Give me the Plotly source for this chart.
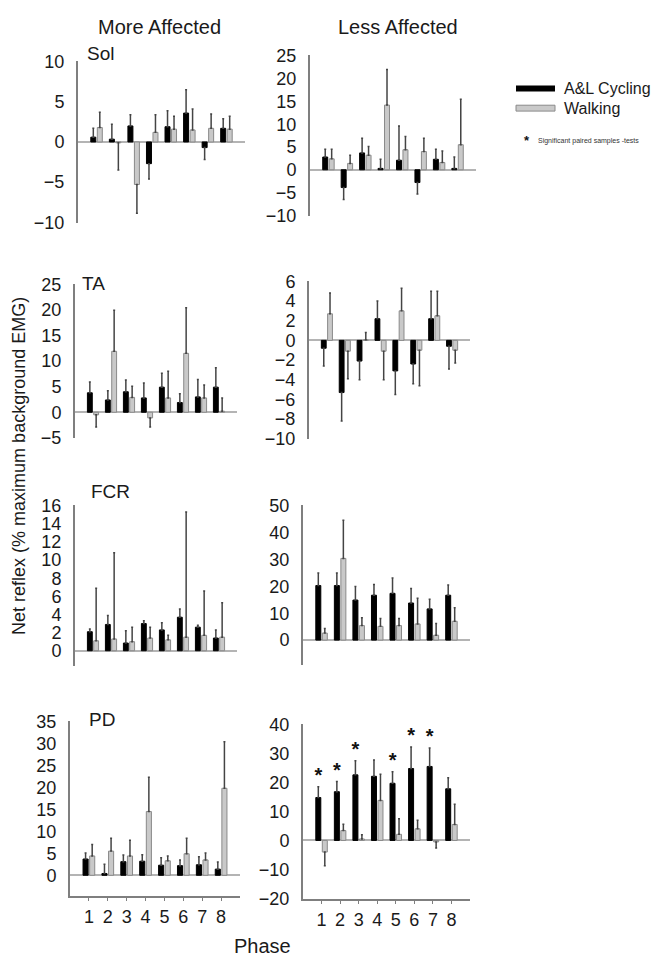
import plotly.graph_objects as go

# the page body adds an 8px margin, so the figure is drawn 16px smaller
# and every position below is given in page pixels
PAGE_W, PAGE_H = 661, 974
PAD = 8
W, H = PAGE_W - 2 * PAD, PAGE_H - 2 * PAD
FONT = "Liberation Sans, Arial, sans-serif"

PHASES = [1, 2, 3, 4, 5, 6, 7, 8]

# Sol
sol_more_cyc = [0.6, 0.35, 2.0, -2.7, 1.9, 3.6, -0.7, 1.7]
sol_more_cyc_err = [1.1, 1.85, 1.4, 1.9, 2.0, 2.9, 1.5, 1.2]
sol_more_walk = [1.8, -0.1, -5.3, 1.2, 1.6, 1.5, 1.7, 1.6]
sol_more_walk_err = [1.9, 3.4, 3.6, 2.2, 1.6, 2.6, 1.8, 1.6]
sol_less_cyc = [2.8, -3.9, 3.7, 0.3, 2.1, -2.8, 2.3, 0.3]
sol_less_cyc_err = [1.7, 2.6, 3.2, 2.0, 7.5, 2.5, 2.2, 2.5]
sol_less_walk = [2.4, 1.4, 3.2, 14.2, 4.4, 4.0, 1.6, 5.5]
sol_less_walk_err = [2.1, 1.8, 1.9, 7.8, 2.9, 2.9, 2.5, 10.0]

# TA
ta_more_cyc = [3.8, 2.4, 4.0, 2.8, 4.9, 1.9, 3.0, 4.9]
ta_more_cyc_err = [2.1, 1.8, 2.3, 2.9, 2.7, 1.7, 3.4, 3.8]
ta_more_walk = [-0.5, 11.9, 2.9, -1.1, 2.8, 11.5, 2.8, 0.2]
ta_more_walk_err = [2.4, 8.0, 2.2, 1.8, 5.2, 8.9, 2.5, 2.6]
ta_less_cyc = [-0.8, -5.3, -2.1, 2.2, -3.1, -2.4, 2.2, -0.6]
ta_less_cyc_err = [1.8, 2.9, 1.9, 1.8, 2.4, 2.0, 2.8, 2.3]
ta_less_walk = [2.7, -1.1, 0.05, -1.1, 3.0, -1.0, 2.5, -1.0]
ta_less_walk_err = [2.1, 2.8, 0.75, 2.9, 2.3, 3.6, 2.5, 1.3]

# FCR
fcr_more_cyc = [2.1, 2.9, 0.85, 3.0, 2.3, 3.7, 2.6, 1.4]
fcr_more_cyc_err = [0.3, 1.0, 1.35, 0.3, 0.8, 0.9, 0.2, 0.9]
fcr_more_walk = [1.1, 1.3, 1.0, 1.4, 1.2, 1.5, 1.7, 1.5]
fcr_more_walk_err = [5.8, 9.5, 1.6, 1.2, 0.5, 13.8, 4.9, 3.8]
fcr_less_cyc = [20.3, 20.3, 14.9, 16.7, 17.4, 13.8, 11.6, 16.7]
fcr_less_cyc_err = [4.7, 4.7, 5.0, 4.0, 5.7, 5.4, 3.6, 3.8]
fcr_less_walk = [2.6, 30.4, 5.4, 5.1, 5.4, 6.0, 1.8, 7.0]
fcr_less_walk_err = [1.7, 14.2, 2.9, 2.9, 2.6, 9.6, 4.4, 5.0]

# PD
pd_more_cyc = [3.7, 0.4, 3.1, 3.2, 2.3, 2.2, 2.4, 1.4]
pd_more_cyc_err = [1.4, 2.1, 1.5, 1.5, 1.7, 1.3, 1.8, 1.6]
pd_more_walk = [4.4, 5.5, 4.4, 14.5, 3.3, 4.9, 3.5, 19.8]
pd_more_walk_err = [2.6, 2.9, 3.6, 7.8, 1.1, 3.5, 1.6, 10.6]
pd_less_cyc = [14.8, 16.8, 22.6, 22.1, 19.7, 24.8, 25.5, 17.8]
pd_less_cyc_err = [3.7, 3.5, 4.9, 5.6, 4.0, 7.4, 6.4, 3.8]
pd_less_walk = [-4.0, 3.4, 0.5, 13.8, 2.1, 4.0, -0.5, 5.5]
pd_less_walk_err = [4.7, 2.2, 1.5, 9.0, 5.4, 3.0, 2.1, 7.0]
pd_less_significant = [1, 2, 3, 5, 6, 7]

BARGAP = 0.3
BARGROUPGAP = 0.23

# panel: (label, cyc, cyc_err, walk, walk_err, px box l r t b, y range, dtick)
PANELS = [
    ("Sol", sol_more_cyc, sol_more_cyc_err, sol_more_walk, sol_more_walk_err,
     (78, 245, 53, 218), (-10, 10), 5),
    (None, sol_less_cyc, sol_less_cyc_err, sol_less_walk, sol_less_walk_err,
     (310, 476, 47, 211), (-10, 25), 5),
    ("TA", ta_more_cyc, ta_more_cyc_err, ta_more_walk, ta_more_walk_err,
     (75, 237, 280, 438), (-5, 25), 5),
    (None, ta_less_cyc, ta_less_cyc_err, ta_less_walk, ta_less_walk_err,
     (309, 470, 277, 439), (-10, 6), 2),
    ("FCR", fcr_more_cyc, fcr_more_cyc_err, fcr_more_walk, fcr_more_walk_err,
     (75, 237, 506, 670), (-1.6, 16), 2),
    (None, fcr_less_cyc, fcr_less_cyc_err, fcr_less_walk, fcr_less_walk_err,
     (303, 470, 506, 669), (-9, 50), 10),
    ("PD", pd_more_cyc, pd_more_cyc_err, pd_more_walk, pd_more_walk_err,
     (70, 240, 726, 905), (-4.6, 35), 5),
    (None, pd_less_cyc, pd_less_cyc_err, pd_less_walk, pd_less_walk_err,
     (303, 470, 729, 908), (-20, 40), 10),
]
LABEL_POS = {"Sol": (85, 45), "TA": (80, 280), "FCR": (89, 492), "PD": (87, 725)}


def fx(px):
    return (px - PAD) / W


def fy(py):
    return 1 - (py - PAD) / H


def one_sided(vals, errs):
    """Excel-style error bars: drawn away from zero only."""
    plus = [e if v >= 0 else 0 for v, e in zip(vals, errs)]
    minus = [e if v < 0 else 0 for v, e in zip(vals, errs)]
    return plus, minus


fig = go.Figure()
layout = {}
annotations = []

for i, (label, cyc, cyc_err, walk, walk_err, box, yr, dtick) in enumerate(PANELS, start=1):
    xa, ya = f"x{i}", f"y{i}"
    l, r, t, b = box
    for vals, errs, fill, edge in [
        (cyc, cyc_err, "#000000", "#000000"),
        (walk, walk_err, "#c9c9c9", "#8a8a8a"),
    ]:
        plus, minus = one_sided(vals, errs)
        fig.add_trace(go.Bar(
            x=PHASES, y=vals, xaxis=xa, yaxis=ya, showlegend=False,
            marker=dict(color=fill, line=dict(color=edge, width=1)),
            error_y=dict(type="data", symmetric=False, array=plus, arrayminus=minus,
                         color="#444444", thickness=1.5, width=1),
        ))
    bottom_row = i >= 7
    span = yr[1] - yr[0]
    key = "" if i == 1 else str(i)
    layout[f"xaxis{key}"] = dict(
        domain=[fx(l), fx(r)], anchor=ya, range=[0, 9],
        showgrid=False, zeroline=False,
        showline=bottom_row, linecolor="#7f7f7f", linewidth=2,
        ticks="outside" if bottom_row else "", ticklen=3, tickcolor="#7f7f7f",
        tickvals=PHASES if bottom_row else [], showticklabels=bottom_row,
        tickfont=dict(family=FONT, size=18, color="#1a1a1a"),
    )
    layout[f"yaxis{key}"] = dict(
        domain=[fy(b), fy(t)], anchor=xa,
        range=[yr[0] - 0.004 * span, yr[1] + 0.004 * span],
        dtick=dtick, tick0=0, showgrid=False,
        zeroline=True, zerolinecolor="#b4b4b4", zerolinewidth=1.5,
        showline=True, linecolor="#7f7f7f", linewidth=2, ticks="",
        ticklabelstandoff=8,
        tickfont=dict(family=FONT, size=18, color="#1a1a1a"),
    )
    if label:
        lx, ly = LABEL_POS[label]
        annotations.append(dict(x=fx(lx), y=fy(ly), xref="paper", yref="paper",
                                text=label, showarrow=False, xanchor="left",
                                yanchor="middle",
                                font=dict(family=FONT, size=19, color="#1a1a1a")))

# significance stars above the cycling bars in PD, less affected
star_x = [p - (1 - BARGAP) / 4 for p in pd_less_significant]
star_y = [pd_less_cyc[p - 1] + pd_less_cyc_err[p - 1] for p in pd_less_significant]
fig.add_trace(go.Scatter(
    x=star_x, y=star_y, xaxis="x8", yaxis="y8", mode="text",
    text=["<b>*</b>"] * len(star_x), textposition="top center",
    textfont=dict(family=FONT, size=20, color="#111111"),
    showlegend=False, hoverinfo="skip",
))

# text labels
for txt, x, y, size, anchor in [
    ("More Affected", 159, 18, 20, "center"),
    ("Less Affected", 398, 18, 20, "center"),
    ("Phase", 262, 956, 20, "center"),
    ("A&L Cycling", 562, 81, 16, "left"),
    ("Walking", 562, 101, 16, "left"),
]:
    annotations.append(dict(x=fx(x), y=fy(y), xref="paper", yref="paper", text=txt,
                            showarrow=False, xanchor=anchor, yanchor="middle",
                            font=dict(family=FONT, size=size, color="#1a1a1a")))

annotations.append(dict(x=fx(19), y=fy(466), xref="paper", yref="paper",
                        text="Net reflex (% maximum background EMG)", textangle=-90,
                        showarrow=False, xanchor="center", yanchor="middle",
                        font=dict(family=FONT, size=18, color="#1a1a1a")))
annotations.append(dict(x=fx(527), y=fy(134), xref="paper", yref="paper",
                        text="<b>*</b>", showarrow=False, xanchor="center",
                        yanchor="middle", font=dict(family=FONT, size=13, color="#111111")))
annotations.append(dict(x=fx(536), y=fy(135), xref="paper", yref="paper",
                        text="Significant paired samples -tests", showarrow=False,
                        xanchor="left", yanchor="middle",
                        font=dict(family=FONT, size=7, color="#333333")))

shapes = [
    dict(type="rect", xref="paper", yref="paper", x0=fx(516), x1=fx(555),
         y0=fy(84), y1=fy(78), fillcolor="#000000", line=dict(width=0)),
    dict(type="rect", xref="paper", yref="paper", x0=fx(516), x1=fx(555),
         y0=fy(104), y1=fy(98), fillcolor="#c9c9c9", line=dict(color="#8a8a8a", width=1)),
]

fig.update_layout(
    **layout,
    width=W, height=H,
    margin=dict(l=0, r=0, t=0, b=0),
    paper_bgcolor="white", plot_bgcolor="white",
    barmode="group", bargap=BARGAP, bargroupgap=BARGROUPGAP,
    annotations=annotations, shapes=shapes,
    font=dict(family=FONT),
)

fig.write_html("out.html")
